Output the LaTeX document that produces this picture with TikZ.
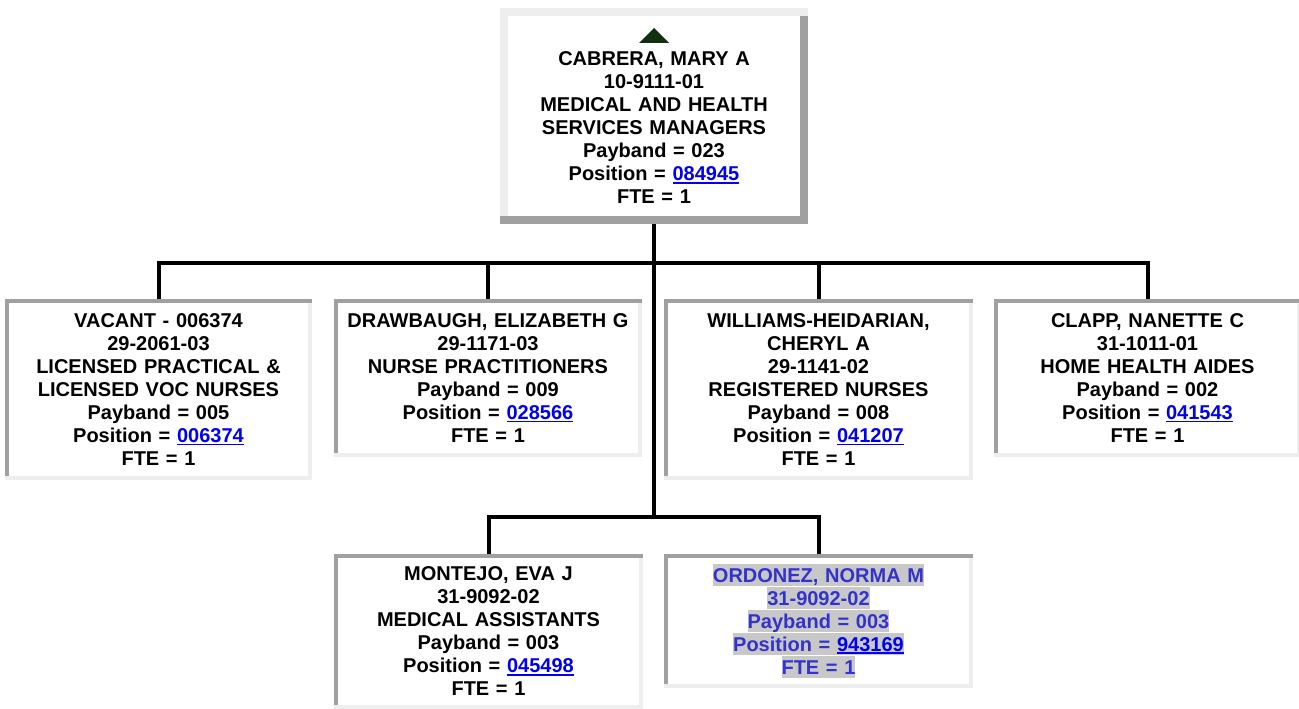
\documentclass[tikz,border=0pt]{standalone}
\usepackage{fontspec}
\setmainfont{Liberation Sans}

% link-style position number, underlined
\newcommand{\posnum}[1]{\textcolor{linkblue}{\setbox0\hbox{#1}\rlap{\rule[-3pt]{\wd0}{1.8pt}}\box0}}
% selected line in the highlighted box
\newcommand{\selline}[1]{\colorbox{selgray}{\rule[-4pt]{0pt}{22pt}#1}}
% bevelled frame round a node: name, top/left colour, bottom/right colour, band
\newcommand{\bevel}[4]{%
  \fill[#2] (#1.north west) rectangle ([yshift=-#4]#1.north east);
  \fill[#2] (#1.north west) rectangle ([xshift=#4,yshift=#4]#1.south west);
  \fill[#3] ([xshift=-#4,yshift=-#4]#1.north east) rectangle (#1.south east);
  \fill[#3] ([yshift=#4]#1.south west) rectangle (#1.south east);
}

\begin{document}
\begin{tikzpicture}[x=1pt,y=-1pt,line width=4pt]
        \useasboundingbox (0,0) rectangle (1299,709);

        \definecolor{linkblue}{RGB}{0,0,238}
        \definecolor{selblue}{RGB}{51,51,204}
        \definecolor{selgray}{RGB}{200,200,200}
        \definecolor{darkband}{RGB}{160,160,160}
        \definecolor{lightband}{RGB}{238,238,238}
        \definecolor{leafgreen}{RGB}{16,48,16}

        \tikzstyle{posbox}=[fill=white, inner sep=0pt, text width=300pt, align=center,
                            font=\bfseries\fontsize{20}{23}\selectfont]

        \node [posbox, minimum width=308pt, minimum height=216pt] (boss) at (654,116)
              {\tikz\fill[leafgreen] (0,0) -- (30pt,0) -- (15pt,15pt) -- cycle;\\
               CABRERA, MARY A\\ 10-9111-01\\ MEDICAL AND HEALTH\\ SERVICES MANAGERS\\
               Payband = 023\\ Position = \posnum{084945}\\ FTE = 1};

        \node [posbox, minimum width=303pt, minimum height=177pt] (vacant) at (158.5,389.5)
              {VACANT - 006374\\ 29-2061-03\\ LICENSED PRACTICAL \&\\ LICENSED VOC NURSES\\
               Payband = 005\\ Position = \posnum{006374}\\ FTE = 1};
        \node [posbox, minimum width=304pt, minimum height=154pt] (drawbaugh) at (488,378)
              {DRAWBAUGH, ELIZABETH G\\ 29-1171-03\\ NURSE PRACTITIONERS\\
               Payband = 009\\ Position = \posnum{028566}\\ FTE = 1};
        \node [posbox, minimum width=305pt, minimum height=177pt] (williams) at (818.5,389.5)
              {WILLIAMS-HEIDARIAN,\\ CHERYL A\\ 29-1141-02\\ REGISTERED NURSES\\
               Payband = 008\\ Position = \posnum{041207}\\ FTE = 1};
        \node [posbox, minimum width=303pt, minimum height=154pt] (clapp) at (1147.5,378)
              {CLAPP, NANETTE C\\ 31-1011-01\\ HOME HEALTH AIDES\\
               Payband = 002\\ Position = \posnum{041543}\\ FTE = 1};

        \node [posbox, minimum width=305pt, minimum height=151pt] (montejo) at (488.5,631.5)
              {MONTEJO, EVA J\\ 31-9092-02\\ MEDICAL ASSISTANTS\\
               Payband = 003\\ Position = \posnum{045498}\\ FTE = 1};
        \node [posbox, minimum width=305pt, minimum height=130pt, text=selblue] (ordonez) at (818.5,621)
              {\setlength{\fboxsep}{0pt}%
               \selline{ORDONEZ, NORMA M}\\ \selline{31-9092-02}\\ \selline{Payband = 003}\\
               \selline{Position = \posnum{943169}}\\ \selline{FTE = 1}};

        \bevel{boss}{lightband}{darkband}{8pt}
        \foreach \b in {vacant,drawbaugh,williams,clapp,montejo,ordonez}
            {\bevel{\b}{darkband}{lightband}{4pt}}

        \coordinate (bus) at (654,263);
        \coordinate (subbus) at (654,517);

        \draw (boss.south) -- (bus);
        \foreach \b in {vacant,drawbaugh,williams,clapp}
            {\draw (bus) -| (\b.north);}
        \draw (bus) -- (subbus);
        \draw (subbus) -| (montejo.north);
        \draw (subbus) -| (ordonez.north);

\end{tikzpicture}
\end{document}
